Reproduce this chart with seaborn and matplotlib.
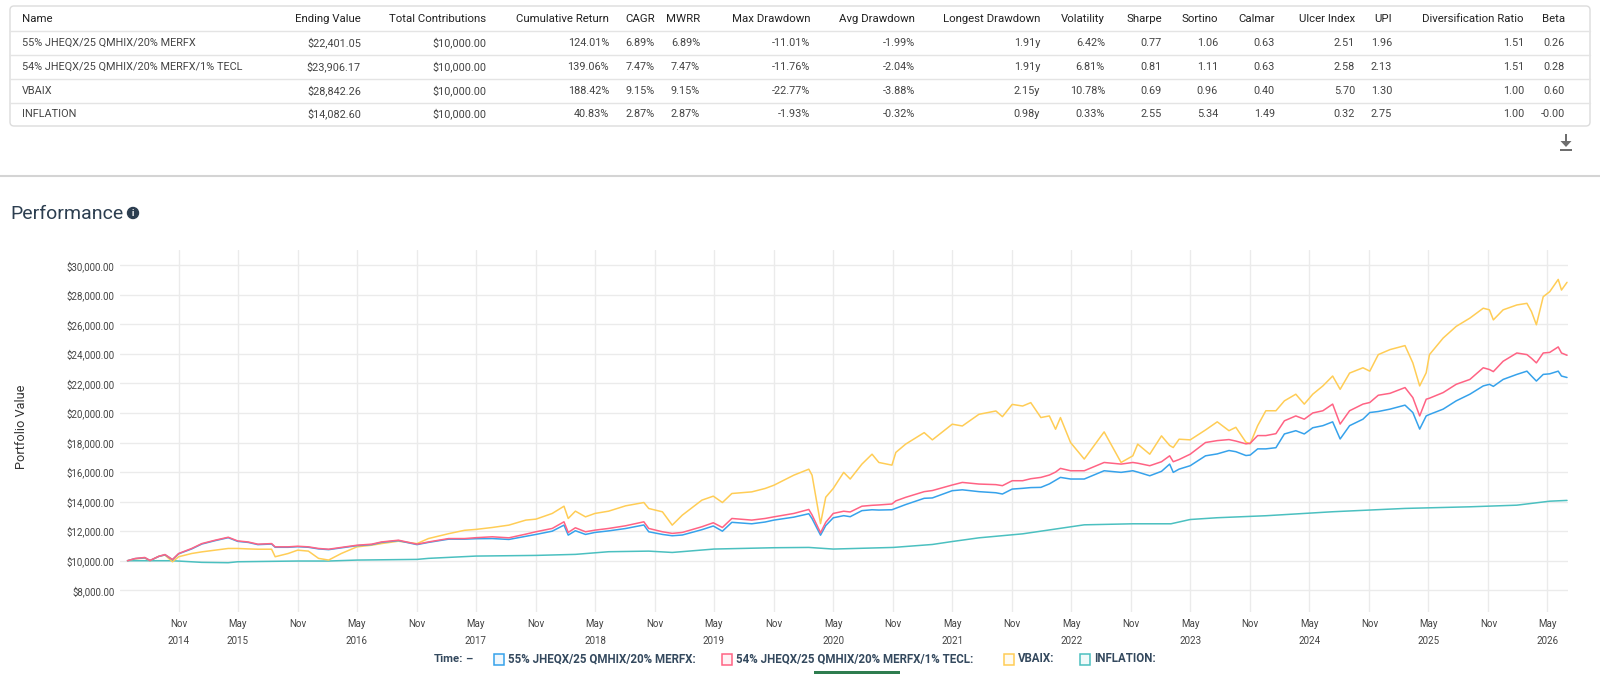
import matplotlib
matplotlib.use("Agg")
import matplotlib.pyplot as plt
from matplotlib.patches import FancyBboxPatch, Rectangle, Circle, Polygon
from matplotlib.ticker import FuncFormatter
import pandas as pd
import seaborn as sns

# ---------------- data ----------------
series_names = ["55% JHEQX/25 QMHIX/20% MERFX",
                "54% JHEQX/25 QMHIX/20% MERFX/1% TECL",
                "VBAIX", "INFLATION"]
series_colors = ["#36a2eb", "#ff6384", "#ffcd56", "#4bc0c0"]

fund_dates = [
    "2014-05-28", "2014-06-20", "2014-07-20", "2014-08-05", "2014-09-01", "2014-09-20", "2014-10-13", "2014-11-01", "2014-12-11",
    "2015-01-11", "2015-02-21", "2015-04-02", "2015-05-01", "2015-06-02", "2015-07-02", "2015-08-13", "2015-08-24", "2015-10-03", "2015-11-01", "2015-12-04",
    "2016-01-04", "2016-02-04", "2016-03-14", "2016-05-01", "2016-06-15", "2016-07-15", "2016-09-05", "2016-11-01", "2016-12-06",
    "2017-02-06", "2017-03-27", "2017-05-01", "2017-06-20", "2017-08-10", "2017-10-01", "2017-11-01", "2017-12-21",
    "2018-01-26", "2018-02-08", "2018-03-02", "2018-04-02", "2018-05-01", "2018-06-12", "2018-08-03", "2018-09-28", "2018-10-13", "2018-11-24", "2018-12-24",
    "2019-01-24", "2019-03-25", "2019-04-29", "2019-05-27", "2019-06-25", "2019-08-25", "2019-10-05", "2019-11-01",
    "2020-01-01", "2020-02-16", "2020-02-26", "2020-03-23", "2020-04-08", "2020-05-01", "2020-06-02", "2020-06-22", "2020-07-28", "2020-08-28", "2020-09-18", "2020-10-28", "2020-11-09", "2020-12-09",
    "2021-02-04", "2021-03-01", "2021-05-01", "2021-06-01", "2021-07-22", "2021-09-12", "2021-10-02", "2021-11-01", "2021-12-03", "2021-12-28",
    "2022-01-28", "2022-02-23", "2022-03-14", "2022-03-29", "2022-04-29", "2022-06-10", "2022-08-10", "2022-10-01", "2022-11-06", "2022-11-21", "2022-12-28",
    "2023-02-02", "2023-02-27", "2023-03-10", "2023-03-28", "2023-05-01", "2023-06-17", "2023-07-23", "2023-08-28", "2023-09-18", "2023-10-19", "2023-11-01", "2023-11-24", "2023-12-19",
    "2024-01-19", "2024-02-14", "2024-03-20", "2024-04-15", "2024-05-11", "2024-06-11", "2024-07-11", "2024-08-03", "2024-09-01", "2024-10-12", "2024-11-02", "2024-11-28",
    "2025-01-03", "2025-02-18", "2025-03-14", "2025-04-04", "2025-04-24", "2025-05-04", "2025-06-15", "2025-07-25", "2025-09-05", "2025-10-16", "2025-11-04", "2025-11-16", "2025-12-16",
    "2026-01-27", "2026-02-27", "2026-03-13", "2026-03-28", "2026-04-18", "2026-05-08", "2026-06-03", "2026-06-13", "2026-06-30",
]

blue_values = [
    10000, 10140, 10200, 10010, 10290, 10400, 10070, 10470, 10800,
    11130, 11360, 11560, 11310, 11240, 11090, 11130, 10910, 10910, 10950, 10910,
    10800, 10750, 10870, 11020, 11090, 11240, 11360, 11090, 11240,
    11460, 11460, 11490, 11500, 11440, 11650, 11780, 12000,
    12410, 11735, 12030, 11780, 11915, 12020, 12180, 12420, 11960, 11780, 11690,
    11740, 12100, 12350, 12000, 12600, 12500, 12620, 12750,
    12950, 13180, 12850, 11730, 12380, 12905, 13050, 12980, 13390, 13450, 13430, 13450, 13550, 13800,
    14225, 14250, 14740, 14800, 14675, 14600, 14515, 14850, 14900, 14950,
    14965, 15200, 15450, 15640, 15530, 15530, 16090, 15980, 16090, 16000, 15750,
    16050, 16540, 15980, 16200, 16430, 17100, 17230, 17460, 17380, 17120, 17150, 17570, 17570,
    17650, 18580, 18800, 18580, 19000, 19140, 19400, 18240, 19140, 19580, 20030, 20100,
    20260, 20530, 20030, 18910, 19800, 19900, 20260, 20820, 21270, 21830, 21940, 21800, 22270,
    22610, 22830, 22500, 22160, 22610, 22650, 22830, 22500, 22401,
]

red_values = [
    10000, 10150, 10220, 10020, 10300, 10420, 10080, 10490, 10830,
    11160, 11390, 11590, 11340, 11270, 11120, 11160, 10940, 10940, 10980, 10940,
    10830, 10780, 10900, 11050, 11120, 11270, 11390, 11120, 11270,
    11500, 11500, 11560, 11620, 11550, 11800, 11960, 12185,
    12635, 11915, 12230, 11960, 12070, 12185, 12365, 12635, 12185, 11960, 11850,
    11915, 12300, 12570, 12250, 12860, 12750, 12860, 12970,
    13200, 13470, 13100, 11890, 12600, 13200, 13350, 13300, 13690, 13750, 13775, 13840, 14050, 14290,
    14675, 14750, 15125, 15300, 15190, 15150, 15080, 15415, 15415, 15550,
    15640, 15800, 16000, 16250, 16090, 16090, 16650, 16540, 16650, 16600, 16430,
    16700, 17100, 16700, 16850, 17210, 18000, 18130, 18200, 18100, 17910, 17950, 18470, 18470,
    18600, 19470, 19800, 19580, 20000, 20150, 20600, 19250, 20150, 20600, 20710, 21200,
    21330, 21720, 21040, 19800, 20930, 21000, 21380, 21940, 22270, 23060, 22940, 22800, 23500,
    24060, 23950, 23700, 23390, 24060, 24100, 24470, 24060, 23906,
]

vbaix_values = [
    10000, 10130, 10180, 10000, 10300, 10380, 9930, 10270, 10490,
    10600, 10715, 10830, 10830, 10800, 10780, 10780, 10270, 10490, 10715, 10650,
    10160, 10045, 10490, 10940, 11050, 11160, 11320, 11160, 11500,
    11830, 12060, 12120, 12250, 12410, 12750, 12815, 13200,
    13690, 12860, 13355, 12970, 13200, 13355, 13715, 13940, 13535, 13310, 12410,
    13085, 14100, 14370, 13940, 14550, 14660, 14890, 15110,
    15790, 16195, 15790, 12510, 14300, 14890, 15980, 15530, 16540, 17210, 16650, 16470, 17330, 17890,
    18670, 18180, 19240, 19120, 19910, 20135, 19750, 20580, 20470, 20700,
    19690, 19800, 18900, 19690, 18000, 16880, 18720, 16650, 17100, 17890, 17210,
    18450, 17800, 17660, 18225, 18180, 18850, 19400, 18800, 19030, 18020, 17910, 19140, 20150,
    20150, 20820, 21270, 20600, 21270, 21830, 22500, 21600, 22700, 23060, 22830, 23950,
    24290, 24560, 23390, 21830, 22720, 23950, 25070, 25860, 26420, 27090, 26980, 26300, 26980,
    27310, 27420, 26860, 25970, 27870, 28210, 29040, 28320, 28842,
]

inflation_dates = [
    "2014-05-28", "2014-10-13", "2015-01-11", "2015-04-02", "2015-05-01", "2015-11-01", "2016-02-04", "2016-05-01",
    "2016-11-01", "2016-12-06", "2017-05-01", "2017-11-01", "2018-03-02", "2018-06-12", "2018-10-13", "2018-12-24",
    "2019-05-01", "2019-11-01", "2020-02-16", "2020-05-01", "2020-11-01", "2021-03-01", "2021-05-01", "2021-07-22",
    "2021-12-03", "2022-06-10", "2022-11-06", "2023-03-03", "2023-05-01", "2023-07-23", "2023-12-19", "2024-07-11",
    "2025-02-18", "2025-09-05", "2026-01-27", "2026-05-08", "2026-06-30",
]
inflation_values = [
    10000, 10000, 9890, 9866, 9930, 9980, 9980, 10045,
    10090, 10160, 10315, 10360, 10430, 10610, 10650, 10560,
    10790, 10880, 10900, 10790, 10900, 11100, 11300, 11550,
    11820, 12430, 12500, 12500, 12790, 12910, 13045, 13315,
    13540, 13650, 13760, 14030, 14082,
]

table_columns = ["Name", "Ending Value", "Total Contributions", "Cumulative Return", "CAGR", "MWRR",
                 "Max Drawdown", "Avg Drawdown", "Longest Drawdown", "Volatility", "Sharpe", "Sortino",
                 "Calmar", "Ulcer Index", "UPI", "Diversification Ratio", "Beta"]
table_rows = [
    ["55% JHEQX/25 QMHIX/20% MERFX", "$22,401.05", "$10,000.00", "124.01%", "6.89%", "6.89%", "-11.01%", "-1.99%", "1.91y", "6.42%", "0.77", "1.06", "0.63", "2.51", "1.96", "1.51", "0.26"],
    ["54% JHEQX/25 QMHIX/20% MERFX/1% TECL", "$23,906.17", "$10,000.00", "139.06%", "7.47%", "7.47%", "-11.76%", "-2.04%", "1.91y", "6.81%", "0.81", "1.11", "0.63", "2.58", "2.13", "1.51", "0.28"],
    ["VBAIX", "$28,842.26", "$10,000.00", "188.42%", "9.15%", "9.15%", "-22.77%", "-3.88%", "2.15y", "10.78%", "0.69", "0.96", "0.40", "5.70", "1.30", "1.00", "0.60"],
    ["INFLATION", "$14,082.60", "$10,000.00", "40.83%", "2.87%", "2.87%", "-1.93%", "-0.32%", "0.98y", "0.33%", "2.55", "5.34", "1.49", "0.32", "2.75", "1.00", "-0.00"],
]

# ---------------- layout constants (pixels) ----------------
W, H = 1600, 674
col_x = [22, 361, 486, 609, 655, 700, 810, 915, 1040, 1105, 1162, 1218, 1275, 1355, 1392, 1524, 1565]
row_y = [18.5, 43, 67, 90.5, 114]
sep_y = [31, 55, 79, 102.5]

# ---------------- frame ----------------
frames = [pd.DataFrame({"date": pd.to_datetime(fund_dates), "value": v, "series": n})
          for n, v in zip(series_names[:3], [blue_values, red_values, vbaix_values])]
frames.append(pd.DataFrame({"date": pd.to_datetime(inflation_dates), "value": inflation_values,
                            "series": series_names[3]}))
df = pd.concat(frames, ignore_index=True)

sns.set_style("white")
plt.rcParams["font.family"] = ["Roboto", "DejaVu Sans"]

fig = plt.figure(figsize=(W / 100, H / 100), dpi=100)

# overlay in pixel coordinates
ov = fig.add_axes([0, 0, 1, 1])
ov.set_xlim(0, W)
ov.set_ylim(H, 0)
ov.axis("off")
ov.patch.set_alpha(0)

# table
ov.add_patch(FancyBboxPatch((10, 6), 1580, 120, boxstyle="round,pad=0,rounding_size=4",
                            fc="white", ec="#dcdcdc", lw=1))
for y in sep_y:
    ov.plot([10, 1590], [y, y], color="#e4e4e4", lw=1)
for j, name in enumerate(table_columns):
    ha = "left" if j == 0 else "right"
    ov.text(col_x[j], row_y[0], name, ha=ha, va="center", fontsize=8.2, color="#222222")
for i, row in enumerate(table_rows):
    for j, val in enumerate(row):
        ha = "left" if j == 0 else "right"
        ov.text(col_x[j], row_y[i + 1], val, ha=ha, va="center", fontsize=7.8, color="#444444")

# download icon
ic = "#6e6e6e"
ov.add_patch(Rectangle((1564.6, 134), 2.8, 8, color=ic, lw=0))
ov.add_patch(Polygon([(1560.5, 141), (1571.5, 141), (1566, 147)], closed=True, color=ic, lw=0))
ov.add_patch(Rectangle((1560, 149), 12, 2, color=ic, lw=0))

# separator
ov.plot([0, W], [175.5, 175.5], color="#d4d4d4", lw=1.5)

# title
ov.text(10, 214, "Performance", fontsize=14, color="#2c3e50", va="center", ha="left")
ov.add_patch(Circle((133, 213), 5.5, color="#2c3e50"))
ov.text(133, 213.5, "i", fontsize=6.5, color="white", ha="center", va="center", fontweight="bold")

# y label
ov.text(21.5, 427, "Portfolio Value", rotation=90, ha="center", va="center", fontsize=9.2, color="#333333")

# legend
lg_y = 659
lg_col = "#34495e"
ov.text(434, lg_y, "Time:", fontsize=8.2, fontweight="bold", color=lg_col, va="center")
ov.text(465, lg_y, "\u2013", fontsize=8.2, fontweight="bold", color=lg_col, va="center")
box_x = [494, 722, 1004, 1080]
for bx, name, col in zip(box_x, series_names, series_colors):
    ov.add_patch(Rectangle((bx, lg_y - 5.5), 10, 11, ec=col, lw=1.1, fill=False))
    ov.add_patch(Rectangle((bx, lg_y - 5.5), 10, 11, fc=col, lw=0, alpha=0.08))
    ov.text(bx + 14, lg_y, name + ":", fontsize=8.3, fontweight="bold", color=lg_col, va="center")
ov.add_patch(Rectangle((814, 671), 86, 4, color="#2e7d4f", lw=0))

# ---------------- main chart ----------------
ax = fig.add_axes([120 / W, 1 - 612 / H, (1568 - 120) / W, (612 - 250) / H])
palette = dict(zip(series_names, series_colors))
order = [series_names[3], series_names[2], series_names[0], series_names[1]]
sns.lineplot(data=df, x="date", y="value", hue="series", hue_order=order, palette=palette,
             linewidth=1.1, legend=False, ax=ax, estimator=None, sort=False)

ax.set_xlim(pd.Timestamp("2014-05-05"), pd.Timestamp("2026-07-03"))
ax.set_ylim(6530, 31030)
ticks = pd.date_range("2014-11-01", "2026-05-01", freq="6MS")
labels = []
for i, t in enumerate(ticks):
    if t.month == 5 or i == 0:
        labels.append(f"{t:%b}\n{t.year}")
    else:
        labels.append(f"{t:%b}")
ax.set_xticks(ticks)
ax.set_xticklabels(labels, linespacing=1.9, va="top")
ax.set_yticks(list(range(8000, 30001, 2000)))
ax.yaxis.set_major_formatter(FuncFormatter(lambda v, p: f"${v:,.2f}"))
ax.tick_params(axis="both", length=0, labelsize=7.0, colors="#444444")
ax.tick_params(axis="y", pad=4)
ax.tick_params(axis="x", pad=5)
ax.grid(True, color="#ebebeb", lw=1.0)
ax.set_axisbelow(True)
for s in ax.spines.values():
    s.set_visible(False)
ax.set_xlabel("")
ax.set_ylabel("")

fig.savefig("out.png", dpi=100)
